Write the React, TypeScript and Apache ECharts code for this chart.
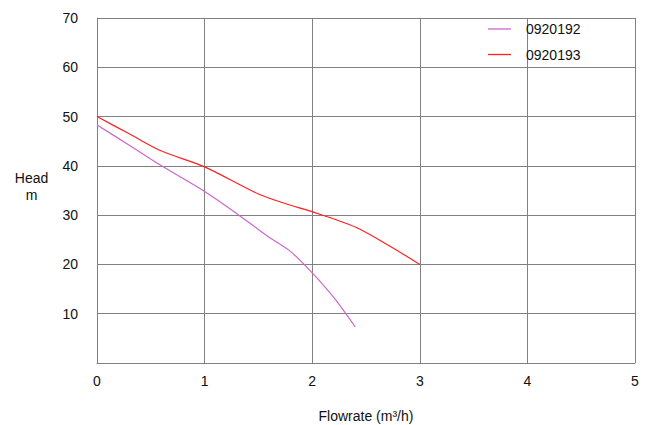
import React, { useEffect, useRef } from "react";
import * as echarts from "echarts";

const seriesNames = ["0920192", "0920193"];
const flow192 = [0, 0.3, 0.6, 1.0, 1.3, 1.6, 1.8, 2.0, 2.2, 2.4];
const head192 = [48.3, 44.2, 40.0, 34.8, 30.3, 25.5, 22.6, 18.3, 13.3, 7.3];
const flow193 = [0, 0.3, 0.6, 1.0, 1.5, 1.8, 2.0, 2.4, 2.7, 3.0];
const head193 = [50.0, 46.5, 43.0, 39.8, 34.3, 32.0, 30.7, 27.6, 24.0, 20.0];
const xTicks = [0, 1, 2, 3, 4, 5];
const yTicks = [10, 20, 30, 40, 50, 60, 70];
const colors = ["#cc66cc", "#ff2020"];

export default function App() {
  const ref = useRef<HTMLDivElement>(null);
  useEffect(() => {
    if (!ref.current) return;
    const chart = echarts.init(ref.current, null, { renderer: "svg" });
    const font = "'Liberation Sans', Arial, sans-serif";
    chart.setOption({
      animation: false,
      backgroundColor: "#ffffff",
      textStyle: { fontFamily: font },
      grid: {
        left: 97,
        right: 14,
        top: 18,
        bottom: 62,
        containLabel: false,
        outerBoundsMode: "none",
      },
      graphic: [
        {
          type: "text",
          x: 31.5,
          y: 186.5,
          style: {
            text: "Head\nm",
            align: "center",
            verticalAlign: "middle",
            lineHeight: 17,
            fontSize: 14,
            fontFamily: font,
            fill: "#111",
          },
        },
      ],
      legend: {
        orient: "vertical",
        left: 483,
        top: 17,
        icon: "rect",
        itemWidth: 23,
        itemHeight: 1.3,
        itemGap: 11.5,
        data: seriesNames,
        textStyle: { fontSize: 14, color: "#111", fontFamily: font, padding: [0, 0, 0, 10] },
      },
      xAxis: {
        type: "value",
        min: 0,
        max: 5,
        interval: 1,
        name: "Flowrate (m³/h)",
        nameLocation: "middle",
        nameGap: 46,
        nameTextStyle: { fontSize: 14, color: "#111", fontFamily: font },
        axisLine: { show: true, lineStyle: { color: "#808080", width: 1 } },
        axisTick: { show: false },
        axisLabel: {
          fontSize: 14,
          color: "#111",
          margin: 11,
          formatter: (v: number) => (xTicks.includes(v) ? String(v) : ""),
        },
        splitLine: { show: true, lineStyle: { color: "#808080", width: 1 } },
      },
      yAxis: {
        type: "value",
        min: 0,
        max: 70,
        interval: 10,
        axisLine: { show: true, lineStyle: { color: "#808080", width: 1 } },
        axisTick: { show: false },
        axisLabel: {
          fontSize: 14,
          color: "#111",
          margin: 19,
          formatter: (v: number) => (yTicks.includes(v) ? String(v) : ""),
        },
        splitLine: { show: true, lineStyle: { color: "#808080", width: 1 } },
      },
      series: [
        {
          name: seriesNames[0],
          type: "line",
          smooth: 0.3,
          symbol: "none",
          color: colors[0],
          lineStyle: { width: 1.2, color: colors[0] },
          data: flow192.map((x, i) => [x, head192[i]]),
        },
        {
          name: seriesNames[1],
          type: "line",
          smooth: 0.3,
          symbol: "none",
          color: colors[1],
          lineStyle: { width: 1.2, color: colors[1] },
          data: flow193.map((x, i) => [x, head193[i]]),
        },
      ],
    });
    return () => chart.dispose();
  }, []);
  return (
    <div
      ref={ref}
      style={{ position: "fixed", left: 0, top: 0, width: 649, height: 425, background: "#fff" }}
    />
  );
}
